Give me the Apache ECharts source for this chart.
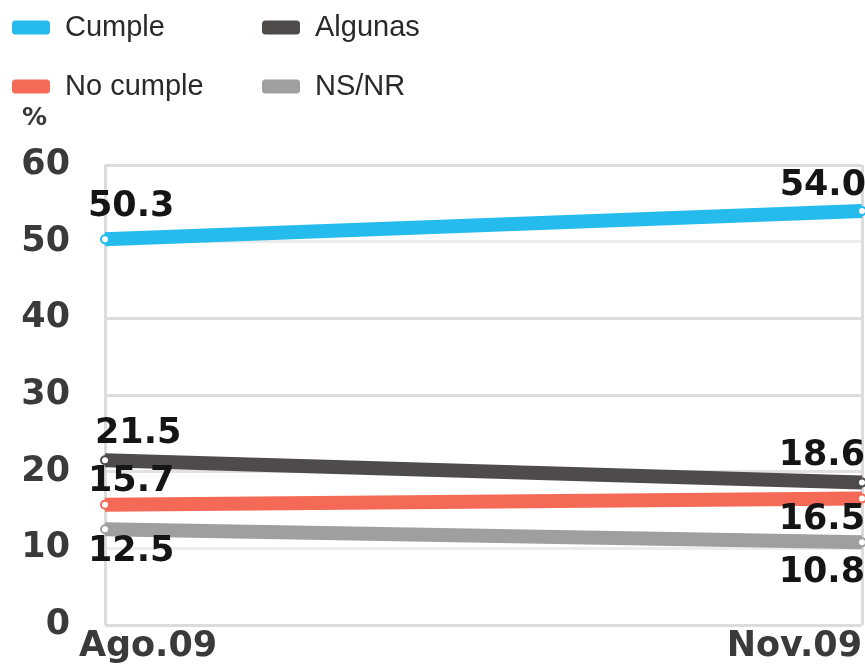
<!DOCTYPE html>
<html>
<head>
<meta charset="utf-8">
<script src="https://cdn.jsdelivr.net/npm/echarts@6/dist/echarts.min.js"></script>
<style>
html,body{margin:0;padding:0;background:#fff;}
#c{width:865px;height:664px;}
</style>
</head>
<body>
<div id="c"></div>
<script>
const categories = ['Ago.09', 'Nov.09'];
const seriesNames = ['Cumple', 'Algunas', 'No cumple', 'NS/NR'];
const cumple = [50.3, 54.0];
const algunas = [21.5, 18.6];
const noCumple = [15.7, 16.5];
const nsnr = [12.5, 10.8];
const yTicks = [0, 10, 20, 30, 40, 50, 60];

const colors = ['#25bbed', '#4f4b4b', '#f56a56', '#9f9f9f'];
const numFont = 'DejaVu Sans';
const txtFont = "'Liberation Sans', sans-serif";

// label placement per point: [dx, dy, align]
const labelPos = [
  [[-17, -32, 'left'], [4, -25, 'right']],
  [[-10, -26, 'left'], [3, -26, 'right']],
  [[-17, -23, 'left'], [3, 21, 'right']],
  [[-17, 23, 'left'], [3, 31, 'right']]
];
const values = [cumple, algunas, noCumple, nsnr];

function buildData(vals, si) {
  return vals.map((v, i) => ({
    value: v,
    label: {
      show: true,
      position: 'inside',
      align: labelPos[si][i][2],
      verticalAlign: 'middle',
      offset: [labelPos[si][i][0], labelPos[si][i][1]],
      formatter: (p) => p.value.toFixed(1),
      color: '#151515',
      fontFamily: numFont,
      fontWeight: 'bold',
      fontSize: 35
    }
  }));
}

const chart = echarts.init(document.getElementById('c'), null, {renderer: 'canvas'});

const legendPos = [[12, 13], [262, 13], [12, 72], [262, 72]];
const legends = seriesNames.map((n, i) => ({
  left: legendPos[i][0],
  top: legendPos[i][1],
  padding: 0,
  icon: 'roundRect',
  itemWidth: 38,
  itemHeight: 14,
  selectedMode: false,
  data: [{name: n, itemStyle: {color: colors[i]}}],
  textStyle: {
    fontFamily: txtFont,
    fontSize: 29,
    color: '#2a2a2a',
    padding: [0, 0, 0, 10]
  }
}));

chart.setOption({
  animation: false,
  backgroundColor: '#fff',
  legend: legends,
  grid: {left: 105, right: 3, top: 165, bottom: 34, containLabel: false},
  xAxis: {
    type: 'category',
    data: categories,
    boundaryGap: false,
    axisLine: {show: false},
    axisTick: {show: false},
    splitLine: {show: true, lineStyle: {color: '#dcdcdc', width: 3}},
    axisLabel: {
      margin: 4,
      alignMaxLabel: 'right',
      color: '#3a3a3a',
      fontFamily: numFont,
      fontWeight: 'bold',
      fontSize: 35,
      formatter: (v, i) => i === 0 ? '{f|' + v + '}' : '{l|' + v + '}',
      rich: {
        f: {fontFamily: numFont, fontWeight: 'bold', fontSize: 35, color: '#3a3a3a', padding: [0, 0, 0, 86]},
        l: {fontFamily: numFont, fontWeight: 'bold', fontSize: 35, color: '#3a3a3a'}
      }
    }
  },
  yAxis: {
    type: 'value',
    min: yTicks[0],
    max: yTicks[yTicks.length - 1],
    interval: 10,
    name: '%',
    nameLocation: 'end',
    nameGap: 47,
    nameTextStyle: {
      fontFamily: numFont, fontSize: 25, fontWeight: 'bold', color: '#3a3a3a',
      align: 'right', verticalAlign: 'middle', padding: [0, 58, 0, 0]
    },
    axisLine: {show: false},
    axisTick: {show: false},
    splitLine: {show: true, lineStyle: {color: ['#dcdcdc', '#ececec', '#e2e2e2', '#dcdcdc', '#dcdcdc', '#ececec', '#dcdcdc'], width: 3}},
    axisLabel: {
      margin: 35,
      color: '#3a3a3a',
      fontFamily: numFont,
      fontWeight: 'bold',
      fontSize: 35
    }
  },
  series: seriesNames.map((n, i) => ({
    name: n,
    type: 'line',
    data: buildData(values[i], i),
    symbol: 'emptyCircle',
    symbolSize: 8,
    showSymbol: true,
    color: colors[i],
    lineStyle: {width: 14, color: colors[i]},
    itemStyle: {color: colors[i], borderWidth: 1},
    emphasis: {disabled: true},
    z: 2
  }))
});
</script>
</body>
</html>
